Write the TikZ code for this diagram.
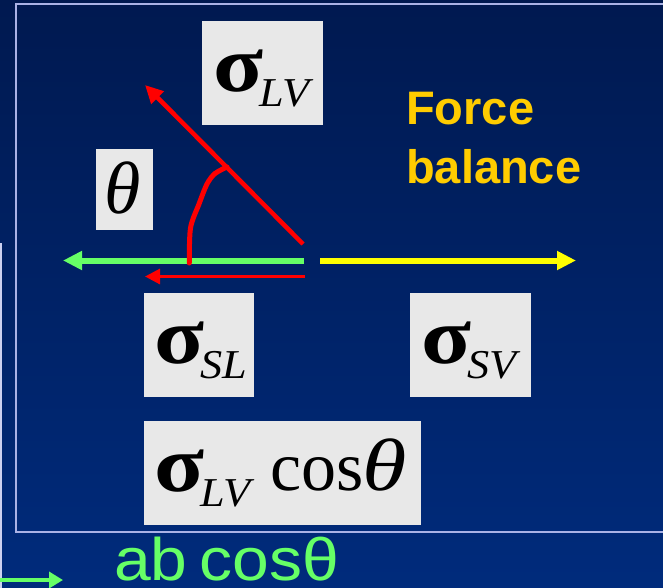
\documentclass[tikz,border=0pt]{standalone}
\usepackage{fontspec}
\usepackage{graphicx}
\setmainfont{Liberation Serif}
\newfontfamily\arialf{Liberation Sans}
\newfontfamily\widesans[FakeStretch=1.1]{Liberation Sans}
\usetikzlibrary{arrows.meta}
\definecolor{bgtop}{RGB}{0,25,80}
\definecolor{bgbot}{RGB}{0,43,124}
\definecolor{framec}{RGB}{170,178,230}
\definecolor{labelbg}{RGB}{232,232,232}
\definecolor{lgreen}{RGB}{102,255,102}
\definecolor{gold}{RGB}{255,204,0}
\definecolor{yel}{RGB}{255,255,0}
\definecolor{redc}{RGB}{255,0,0}
\newcommand\sig{\makebox[46pt][l]{\scalebox{1.15}[1]{\fontsize{80}{80}\selectfont\bfseries σ}}}
\newcommand\lowsub[1]{\raisebox{-15pt}{\scalebox{1.08}[1]{\fontsize{41}{41}\selectfont\itshape #1}}}
\begin{document}
\begin{tikzpicture}[x=1pt,y=-1pt,
  labelbox/.style={fill=labelbg, draw=none, inner sep=0pt, anchor=north west},
  greek/.style={anchor=base west, inner sep=0pt, font=\fontsize{70}{70}\selectfont, text=black},
  thetalabel/.style={anchor=base west, inner sep=0pt, font=\fontsize{74}{74}\selectfont\itshape, text=black},
  sanslabel/.style={anchor=base west, inner sep=0pt},
  forcearrow/.style={line width=#1}]
\useasboundingbox (0,0) rectangle (663,588);
\clip (0,0) rectangle (663,588);
\shade[top color=bgtop, bottom color=bgbot] (0,0) rectangle (663,588);
% frames
\draw[framec, line width=2.5pt] (16,4) rectangle (700,532);
\draw[framec!60!white, line width=1.5pt] (0.75,243) -- (0.75,600);
% label boxes
\node[labelbox, minimum width=121pt, minimum height=104pt] (blv) at (202,21) {};
\node[labelbox, minimum width=57pt, minimum height=81pt] (bth) at (96,149) {};
\node[labelbox, minimum width=110pt, minimum height=104pt] (bsl) at (144,293) {};
\node[labelbox, minimum width=121pt, minimum height=104pt] (bsv) at (410,293) {};
\node[labelbox, minimum width=277pt, minimum height=104pt] (bcos) at (144,421) {};
% label texts
\node[greek] (tlv) at (213,92) {\sig\lowsub{LV}};
\node[thetalabel] (tth) at (104,213) {θ};
\node[greek] (tsl) at (154,363) {\sig\lowsub{SL}};
\node[greek] (tsv) at (421,363) {\sig\lowsub{SV}};
\node[greek] (tcos) at (154,491) {\sig\lowsub{LV}};
\node[greek] (tcosb) at (270,490) {cos};
\node[thetalabel] (tcost) at (362,490) {\scalebox{1.22}[1]{θ}};
% force balance
\node[sanslabel, font=\arialf\bfseries\fontsize{47}{47}\selectfont, text=gold] (force) at (406,125) {Force};
\node[sanslabel, font=\arialf\bfseries\fontsize{47}{47}\selectfont, text=gold] (balance) at (406,183) {balance};
% ab cos theta
\node[sanslabel, font=\widesans\fontsize{60}{60}\selectfont, text=lgreen] (abc) at (114,580) {ab\hspace{12pt}cosθ};
% arrows
\coordinate (gS) at (304,260.5);
\coordinate (gE) at (63,260.5);
\coordinate (yS) at (320,260.5);
\coordinate (yE) at (576,260.5);
\coordinate (rS) at (305,276.5);
\coordinate (rE) at (145,276.5);
\coordinate (aS) at (303,244);
\coordinate (aE) at (145,85);
\coordinate (sS) at (0,580);
\coordinate (sE) at (63,580);
\draw[lgreen, forcearrow=6pt, -{Triangle[length=19pt,width=18pt]}] (gS) -- (gE);
\draw[yel, forcearrow=6pt, -{Triangle[length=19pt,width=18pt]}] (yS) -- (yE);
\draw[redc, forcearrow=3pt, -{Triangle[length=15pt,width=15pt]}] (rS) -- (rE);
\draw[redc, forcearrow=4.5pt, -{Triangle[length=18pt,width=17pt]}] (aS) -- (aE);
\draw[lgreen, forcearrow=4pt, -{Triangle[length=14pt,width=16pt]}] (sS) -- (sE);
% angle arc
\draw[redc, line width=5pt, line cap=round] plot[smooth] coordinates {(189.3,263) (190.5,228) (199,204) (207,184) (215,173.5) (227,167)};
\end{tikzpicture}
\end{document}
